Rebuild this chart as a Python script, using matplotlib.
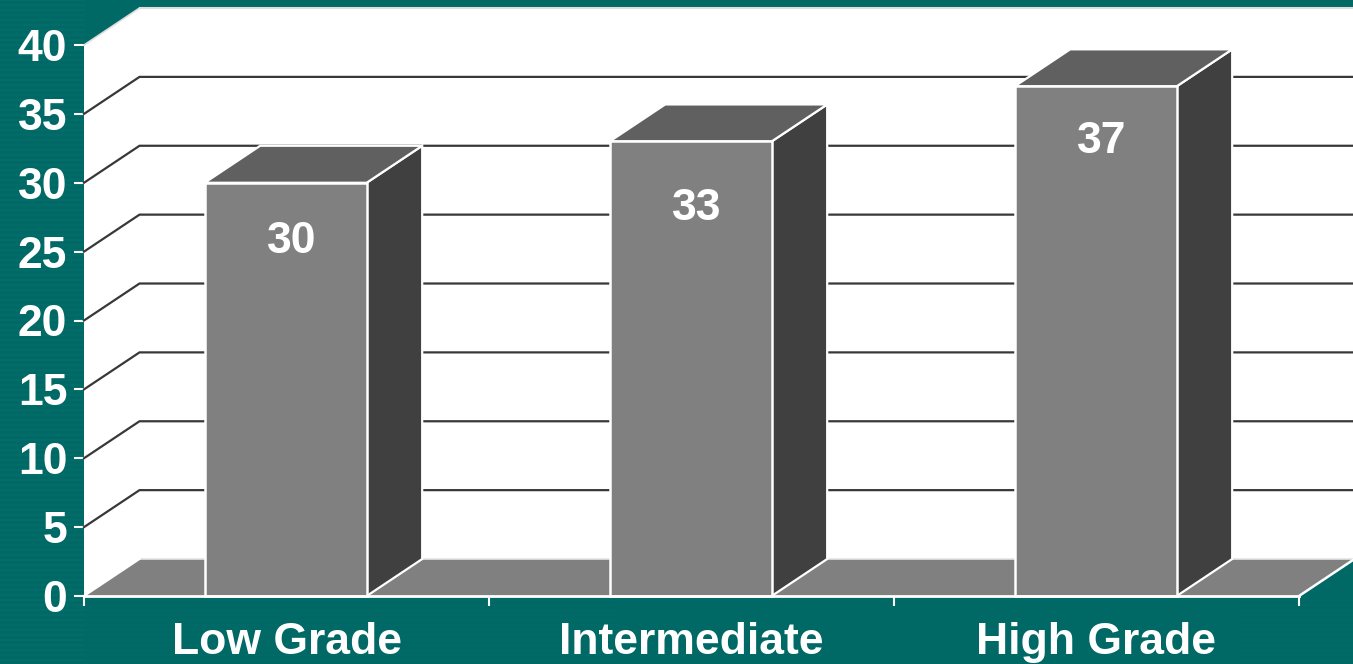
import matplotlib
matplotlib.use("Agg")
import matplotlib.pyplot as plt
from matplotlib.patches import Polygon

plt.rcParams['font.family'] = ['Liberation Sans', 'DejaVu Sans']

categories = ["Low Grade", "Intermediate", "High Grade"]
values = [30, 33, 37]
y_ticks = [0, 5, 10, 15, 20, 25, 30, 35, 40]
label_drop = [4.3, 4.85, 3.97]   # how far each number sits below its bar top

W, H = 1353, 664
TEAL = "#006865"
TEAL2 = "#036d6a"
DX = 55.5 / 405    # depth of the 3d box, in categories
DY = 37 / 13.78    # and in value units
BAR_W = 162 / 405
FS = 32

fig = plt.figure(figsize=(W / 100, H / 100), dpi=100, facecolor=TEAL)

# faint stripes on the slide background
bg = fig.add_axes([0, 0, 1, 1], zorder=0)
bg.set_xlim(0, W)
bg.set_ylim(H, 0)
bg.axis("off")
for yy in range(0, H, 5):
    bg.plot([0, 85], [yy, yy], color=TEAL2, lw=1.3, solid_capstyle="butt")
    if yy > 600:
        bg.plot([85, 620], [yy, yy], color=TEAL2, lw=1.3, alpha=0.6, solid_capstyle="butt")
        bg.plot([1240, W], [yy, yy], color=TEAL2, lw=1.3, alpha=0.4, solid_capstyle="butt")

ax = fig.add_axes([84 / W, 1 - 596 / H, 1215 / W, 551 / H], zorder=1)
ax.set_xlim(0, 3)
ax.set_ylim(0, 40)
ax.patch.set_alpha(0)


def poly(pts, fc, ec="none", lw=0, z=2):
    ax.add_patch(Polygon(pts, closed=True, fc=fc, ec=ec, lw=lw, zorder=z,
                         clip_on=False, joinstyle="miter"))


# walls and floor
poly([(0, 0), (0, 40), (DX, 40 + DY), (3 + DX, 40 + DY), (3 + DX, DY), (DX, DY)], "white")
poly([(0, 0), (DX, DY), (3 + DX, DY), (3, 0)], "#808080")
ax.plot([DX, 3 + DX], [40 + DY, 40 + DY], color="#dddddd", lw=1.5, clip_on=False, zorder=3)
ax.plot([0, DX], [40, 40 + DY], color="#dddddd", lw=1.2, clip_on=False, zorder=3)
ax.plot([DX, 3 + DX], [DY, DY], color="#e4e4e4", lw=1.2, clip_on=False, zorder=3)
ax.plot([0, DX], [0, DY], color="white", lw=1.5, clip_on=False, zorder=3)
ax.plot([3, 3 + DX], [0, DY], color="white", lw=1.8, clip_on=False, zorder=3)

# gridlines
for t in y_ticks[1:-1]:
    ax.plot([0, DX, 3 + DX], [t, t + DY, t + DY], color="#383838", lw=1.6,
            clip_on=False, zorder=3, solid_joinstyle="miter")

# bars
for i, v in enumerate(values):
    x0 = i + 0.498 - BAR_W / 2
    x1 = i + 0.498 + BAR_W / 2
    poly([(x1, 0), (x1 + DX, DY), (x1 + DX, v + DY), (x1, v)], "#404040", "white", 1.6, 4)
    poly([(x0, v), (x0 + DX, v + DY), (x1 + DX, v + DY), (x1, v)], "#606060", "white", 1.6, 4)
    poly([(x0, 0), (x0, v), (x1, v), (x1, 0)], "#808080", "white", 1.8, 5)
    ax.text(i + 0.5 + 0.012, v - label_drop[i], str(v), color="white", fontsize=FS,
            fontweight="bold", ha="center", va="center", zorder=6)

for s in ax.spines.values():
    s.set_visible(False)
ax.spines["bottom"].set_visible(True)
ax.spines["bottom"].set_color("white")
ax.spines["bottom"].set_linewidth(2)
ax.spines["bottom"].set_zorder(6)

ax.set_xticks([0, 1, 2, 3])
ax.set_xticklabels([])
ax.set_yticks(y_ticks)
ax.tick_params(axis="x", length=7, width=1.5, color="white")
ax.tick_params(axis="y", length=7, width=1.5, color="white", labelcolor="white",
               labelsize=FS, pad=5)
for lab in ax.get_yticklabels():
    lab.set_fontweight("bold")

for i, c in enumerate(categories):
    ax.text(i + 0.5, -4.2, c, color="white", fontsize=FS, fontweight="bold",
            ha="center", va="baseline", clip_on=False)

fig.savefig("out.png", dpi=100, facecolor=fig.get_facecolor())
